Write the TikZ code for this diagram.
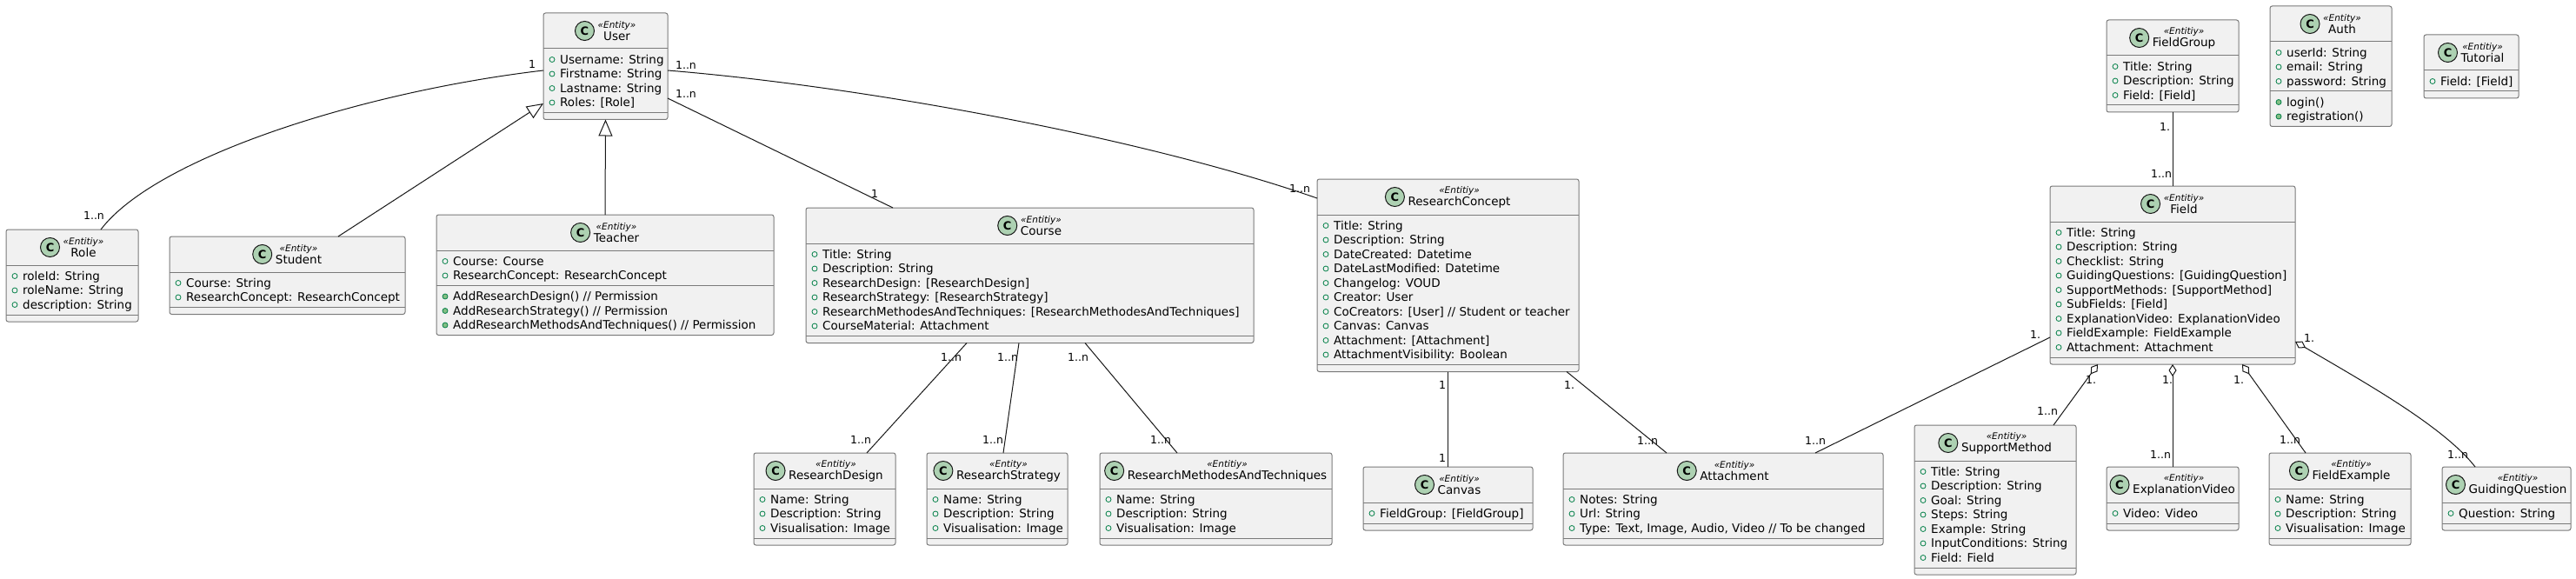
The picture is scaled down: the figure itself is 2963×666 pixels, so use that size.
\documentclass[tikz,border=0pt]{standalone}
\usepackage{fontspec}
\setmainfont{DejaVu Sans}
\usetikzlibrary{arrows.meta}
\definecolor{boxfill}{HTML}{F1F1F1}
\definecolor{boxline}{HTML}{7A7A7A}
\definecolor{conncol}{HTML}{181818}
\definecolor{iconfill}{HTML}{ADD1B2}
\definecolor{visline}{HTML}{038048}
\definecolor{visfill}{HTML}{84BE84}
\tikzset{
 clsbox/.style={draw=boxline, fill=boxfill, line width=1pt, rounded corners=2.5pt, inner sep=0pt, outer sep=0pt},
 sepline/.style={draw=boxline, line width=1pt},
 clshead/.style={inner sep=0pt, align=center, font=\fontsize{13.5}{14}\selectfont},
 clsicon/.style={draw=conncol, fill=iconfill, line width=1pt},
 iconletter/.style={inner sep=0pt, font=\fontsize{13}{13}\bfseries\selectfont},
 attr/.style={inner sep=0pt, anchor=base west, font=\fontsize{13.5}{16}\selectfont},
 visf/.style={draw=visline, line width=0.8pt},
 vism/.style={draw=visline, fill=visfill, line width=0.8pt},
 connline/.style={draw=conncol, line width=1pt},
 mult/.style={inner sep=0pt, font=\fontsize{12.5}{13}\selectfont},
 gen/.style={connline, -{Triangle[open, length=19pt, width=16pt, line width=1pt]}},
 agg/.style={connline, {Diamond[open, length=14pt, width=9pt, line width=1pt]}-},
}
\newcommand\cls[8]{%
 \pgfmathsetmacro\clsH{41+#5*16.5+7.5+(#6>0)*(#6*16.5+7.5)+(#6==0)*8}%
 \pgfmathsetmacro\clsHS{#3+41}%
 \pgfmathsetmacro\clsAS{#3+48.5+#5*16.5}%
 \pgfmathsetmacro\clsCX{(#2+#4)/2+13}%
 \pgfmathsetmacro\clsHY{#3+20.5}%
 \node[clsbox, anchor=north west, minimum width={(#4-#2)*1pt}, minimum height={\clsH*1pt}] (#1) at (#2,#3) {};
 \draw[sepline] (#2,\clsHS) -- (#4,\clsHS);
 \draw[sepline] (#2,\clsAS) -- (#4,\clsAS);
 \node[clshead] (#1-h) at (\clsCX,\clsHY) {{\fontsize{10.5}{14}\itshape\selectfont «#7»}\\#8};
 \draw[clsicon] ([xshift=-15pt]#1-h.west) circle (11pt);
 \node[iconletter] (#1-c) at ([xshift=-15pt]#1-h.west) {C};
 \xdef\curname{#1}\xdef\curx{#2}\xdef\curhs{\clsHS}\xdef\curas{\clsAS}%
}
\newcommand\attrs[1]{%
 \foreach \itm [count=\kk] in {#1} {%
  \pgfmathsetmacro\ry{\curhs+12.5+(\kk-1)*16.5}%
  \node[attr] (\curname-a\kk) at (\curx+19,\ry+4.8) {\itm};
  \draw[visf] (\curx+10,\ry) circle (3pt);
 }}
\newcommand\meths[1]{%
 \foreach \itm [count=\kk] in {#1} {%
  \pgfmathsetmacro\ry{\curas+12.5+(\kk-1)*16.5}%
  \node[attr] (\curname-m\kk) at (\curx+19,\ry+4.8) {\itm};
  \draw[vism] (\curx+10,\ry) circle (3pt);
 }}
\begin{document}
\begin{tikzpicture}[x=1pt,y=-1pt]
\fill[white] (0,0) rectangle (2963,666);
\useasboundingbox (0,0) rectangle (2963,666);

\cls{user}{625}{15}{768}{4}{0}{Entity}{User}
\attrs{Username: String, Firstname: String, Lastname: String, {Roles: [Role]}}
\cls{role}{7}{264}{159}{3}{0}{Entitiy}{Role}
\attrs{roleId: String, roleName: String, description: String}
\cls{student}{195}{272}{466}{2}{0}{Entity}{Student}
\attrs{Course: String, ResearchConcept: ResearchConcept}
\cls{teacher}{502}{247}{890}{2}{3}{Entitiy}{Teacher}
\attrs{Course: Course, ResearchConcept: ResearchConcept}
\meths{{AddResearchDesign() // Permission}, {AddResearchStrategy() // Permission}, {AddResearchMethodsAndTechniques() // Permission}}
\cls{course}{927}{239}{1442}{6}{0}{Entitiy}{Course}
\attrs{Title: String, Description: String, {ResearchDesign: [ResearchDesign]}, {ResearchStrategy: [ResearchStrategy]}, {ResearchMethodesAndTechniques: [ResearchMethodesAndTechniques]}, CourseMaterial: Attachment}
\cls{rc}{1515}{206}{1816}{10}{0}{Entitiy}{ResearchConcept}
\attrs{Title: String, Description: String, DateCreated: Datetime, DateLastModified: Datetime, Changelog: VOUD, Creator: User, {CoCreators: [User] // Student or teacher}, Canvas: Canvas, {Attachment: [Attachment]}, AttachmentVisibility: Boolean}
\cls{rd}{867}{521}{1030}{3}{0}{Entitiy}{ResearchDesign}
\attrs{Name: String, Description: String, Visualisation: Image}
\cls{rs}{1066}{521}{1228}{3}{0}{Entity}{ResearchStrategy}
\attrs{Name: String, Description: String, Visualisation: Image}
\cls{rmat}{1265}{521}{1532}{3}{0}{Entitiy}{ResearchMethodesAndTechniques}
\attrs{Name: String, Description: String, Visualisation: Image}
\cls{canvas}{1568}{537}{1763}{1}{0}{Entitiy}{Canvas}
\attrs{{FieldGroup: [FieldGroup]}}
\cls{att}{1798}{521}{2166}{3}{0}{Entitiy}{Attachment}
\attrs{Notes: String, Url: String, {Type: Text, Image, Audio, Video // To be changed}}
\cls{sm}{2202}{489}{2388}{7}{0}{Entitiy}{SupportMethod}
\attrs{Title: String, Description: String, Goal: String, Steps: String, Example: String, InputConditions: String, Field: Field}
\cls{ev}{2423}{537}{2575}{1}{0}{Entitiy}{ExplanationVideo}
\attrs{Video: Video}
\cls{fe}{2610}{521}{2773}{3}{0}{Entitiy}{FieldExample}
\attrs{Name: String, Description: String, Visualisation: Image}
\cls{gq}{2809}{537}{2957}{1}{0}{Entitiy}{GuidingQuestion}
\attrs{Question: String}
\cls{fg}{2423}{23}{2575}{3}{0}{Entitiy}{FieldGroup}
\attrs{Title: String, Description: String, {Field: [Field]}}
\cls{auth}{2611}{7}{2751}{3}{2}{Entity}{Auth}
\attrs{userId: String, email: String, password: String}
\meths{{login()}, {registration()}}
\cls{tut}{2788}{40}{2897}{1}{0}{Entitiy}{Tutorial}
\attrs{{Field: [Field]}}
\cls{field}{2358}{214}{2640}{9}{0}{Entitiy}{Field}
\attrs{Title: String, Description: String, Checklist: String, {GuidingQuestions: [GuidingQuestion]}, {SupportMethods: [SupportMethod]}, {SubFields: [Field]}, ExplanationVideo: ExplanationVideo, FieldExample: FieldExample, Attachment: Attachment}

% connectors
\draw[connline] ([yshift=-66pt]user.north west) .. controls (420,105) and (180,180) .. ([xshift=109pt]role.north west);
\draw[gen] ([xshift=194pt]student.north west) -- ([yshift=-104pt]user.north west);
\draw[gen] (teacher.north) -- (user.south);
\draw[connline] ([yshift=-98pt]user.north east) -- ([xshift=100pt]course.north west);
\draw[connline] ([yshift=-66pt]user.north east) .. controls (1000,100) and (1320,160) .. ([yshift=-22pt]rc.north west);
\draw[connline] ([xshift=185pt]course.south west) -- ([xshift=130pt]rd.north west);
\draw[connline] ([xshift=245pt]course.south west) -- ([xshift=88pt]rs.north west);
\draw[connline] ([xshift=321pt]course.south west) -- ([xshift=89pt]rmat.north west);
\draw[connline] (rc.south) -- (canvas.north);
\draw[connline] ([xshift=-14pt]rc.south east) -- ([xshift=119pt]att.north west);
\draw[connline] ([yshift=-174pt]field.north west) -- ([xshift=290pt]att.north west);
\draw[connline] (fg.south) -- (field.north);
\draw[agg] ([xshift=55pt]field.south west) -- ([xshift=160pt]sm.north west);
\draw[agg] (field.south) -- (ev.north);
\draw[agg] ([xshift=221pt]field.south west) -- ([xshift=42pt]fe.north west);
\draw[agg] ([yshift=-179pt]field.north east) .. controls (2720,440) and (2810,490) .. ([xshift=38pt]gq.north west);

% multiplicities
\node[mult] (m1) at (612,74) {1};
\node[mult] (m2) at (108,248) {1..n};
\node[mult] (m3) at (789,75) {1..n};
\node[mult] (m4) at (1495,217) {1..n};
\node[mult] (m5) at (789,108) {1..n};
\node[mult] (m6) at (1006,223) {1};
\node[mult] (m7) at (1094,411) {1..n};
\node[mult] (m8) at (990,506) {1..n};
\node[mult] (m9) at (1159,411) {1..n};
\node[mult] (m10) at (1142,506) {1..n};
\node[mult] (m11) at (1240,411) {1..n};
\node[mult] (m12) at (1335,506) {1..n};
\node[mult] (m13) at (1659,443) {1};
\node[mult] (m14) at (1659,527) {1};
\node[mult] (m15) at (1805,443) {1.};
\node[mult] (m16) at (1895,507) {1..n};
\node[mult] (m17) at (2341,385) {1.};
\node[mult] (m18) at (2088,507) {1..n};
\node[mult] (m19) at (2490,146) {1.};
\node[mult] (m20) at (2486,200) {1..n};
\node[mult] (m21) at (2405,437) {1.};
\node[mult] (m22) at (2355,473) {1..n};
\node[mult] (m23) at (2493,437) {1.};
\node[mult] (m24) at (2485,523) {1..n};
\node[mult] (m25) at (2575,437) {1.};
\node[mult] (m26) at (2634,506) {1..n};
\node[mult] (m27) at (2656,389) {1.};
\node[mult] (m28) at (2827,523) {1..n};
\end{tikzpicture}
\end{document}
